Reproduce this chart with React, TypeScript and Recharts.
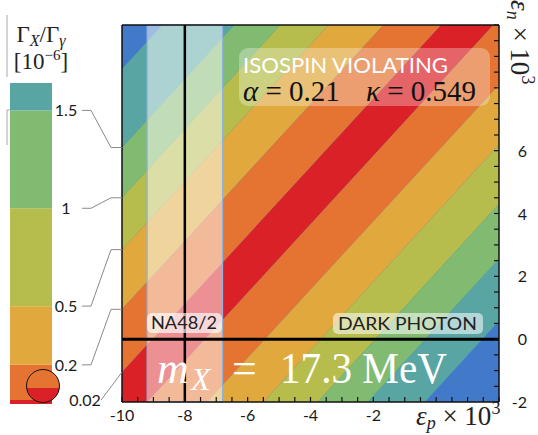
import {
  ComposedChart,
  Area,
  XAxis,
  YAxis,
  CartesianGrid,
  ReferenceArea,
  ReferenceLine,
  BarChart,
  Bar
} from "recharts"

// contour boundaries, read as εn at the left (εp = -10) and right (εp = 2) edges
const EP_EDGES = [-10, 2]
const LINE_AT_LEFT = [8.6, 6.1, 4.5, 2.85, 0.95, -1.05, -2.88, -4.94, -6.92, -8.8, -10.53, -12.54]
const LINE_AT_RIGHT = [21.7, 19.2, 17.6, 15.9, 14.0, 12.0, 10.2, 8.1, 6.2, 4.3, 2.55, 0.58]

const BLUE = "#4279c9"
const TEAL = "#58a5a4"
const GREEN = "#81ba71"
const OLIVE = "#b6bd4c"
const YELLOW = "#e0a83d"
const ORANGE = "#e57433"
const RED = "#da2127"

const BAND_COLORS = [TEAL, GREEN, OLIVE, YELLOW, ORANGE, RED, ORANGE, YELLOW, OLIVE, GREEN, TEAL]

// colour bar levels (Γx/Γγ in 1e-6)
const LEVELS = [0, 0.02, 0.2, 0.5, 1, 1.5, 1.64]
const LEVEL_COLORS = [RED, ORANGE, YELLOW, OLIVE, GREEN, TEAL]
const LEVEL_LABELS = ["0.02", "0.2", "0.5", "1", "1.5"]

const NA48 = [-9.2, -6.8]
const NA48_CENTER = -8

const X_LABELS = [-10, -8, -6, -4, -2]
const Y_LABELS = [-2, 0, 2, 4, 6]
const X_TICKS = Array.from({ length: 25 }, (_, i) => -10 + i * 0.5)
const Y_TICKS = Array.from({ length: 25 }, (_, i) => -2 + i * 0.5)

const PLOT = { left: 122, top: 25, right: 499, bottom: 402 }
const CB = { left: 10, right: 52, top: 83, bottom: 404 }

const bandRows = EP_EDGES.map((ep, i) => {
  const edge = i === 0 ? LINE_AT_LEFT : LINE_AT_RIGHT
  const row: any = { ep }
  BAND_COLORS.forEach((_, b) => {
    row["b" + b] = [edge[b + 1], edge[b]]
  })
  return row
})

const barRow: any = { name: "cb" }
LEVEL_COLORS.forEach((_, i) => {
  barRow["l" + i] = LEVELS[i + 1] - LEVELS[i]
})

const tickFont = { fontFamily: "Lato, sans-serif", fontSize: 16, fill: "#1a1a1a" }

function BottomTick(props: any) {
  const v = props.payload.value
  if (!X_LABELS.includes(v)) return <g />
  return (
    <text x={props.payload.coordinate} y={PLOT.bottom + 19} textAnchor="middle" {...tickFont}>
      {v}
    </text>
  )
}

function RightTick(props: any) {
  const v = props.payload.value
  if (!Y_LABELS.includes(v)) return <g />
  return (
    <text x={PLOT.right + 28} y={props.payload.coordinate + 6} textAnchor="end" {...tickFont}>
      {v}
    </text>
  )
}

const cbY = (v: number) => CB.bottom - ((CB.bottom - CB.top) * v) / LEVELS[LEVELS.length - 1]
const plotY = (en: number) => PLOT.top + ((10 - en) * (PLOT.bottom - PLOT.top)) / 12

const serif = "'Liberation Serif', 'DejaVu Serif', serif"

function Overlay() {
  const leaderLevels = [0.02, 0.2, 0.5, 1, 1.5]
  const leaderTargets = [LINE_AT_LEFT[5], LINE_AT_LEFT[4], LINE_AT_LEFT[3], LINE_AT_LEFT[2], LINE_AT_LEFT[1]]
  return (
    <svg
      width={538}
      height={435}
      style={{ position: "absolute", left: 0, top: 0, pointerEvents: "none" }}
    >
      {/* colour bar title */}
      <line x1={7} y1={15} x2={7} y2={77} stroke="#aaa" strokeWidth={1} />
      <polyline points="10,110 7,110 7,145" fill="none" stroke="#aaa" strokeWidth={1} />
      <text x={41} y={42} textAnchor="middle" fontFamily={serif} fontSize={23} fill="#222">
        Γ<tspan fontSize={16} dy={4} fontStyle="italic">X</tspan>
        <tspan dy={-4}>/Γ</tspan>
        <tspan fontSize={16} dy={4} fontStyle="italic">γ</tspan>
      </text>
      <text x={41} y={69} textAnchor="middle" fontFamily={serif} fontSize={23} fill="#222">
        [10<tspan fontSize={15} dy={-9}>−6</tspan>
        <tspan dy={9}>]</tspan>
      </text>

      {/* colour bar labels and leaders */}
      {leaderLevels.map((lv, i) => {
        const cy = cbY(lv)
        const py = plotY(leaderTargets[i])
        const isLast = i === 0
        const pts = isLast
          ? `101,${cy} ${PLOT.left},${py}`
          : `82,${cy} 91,${cy} 111,${py} ${PLOT.left},${py}`
        return (
          <g key={lv}>
            <polyline points={pts} fill="none" stroke="#8a8a8a" strokeWidth={1} />
            <text
              x={isLast ? 85 : 66}
              y={cy + 6}
              textAnchor="middle"
              {...tickFont}
            >
              {LEVEL_LABELS[i]}
            </text>
          </g>
        )
      })}

      {/* magnifier circle at the bottom of the colour bar */}
      <defs>
        <clipPath id="lowHalf">
          <rect x={20} y={388} width={50} height={30} />
        </clipPath>
      </defs>
      <circle cx={43} cy={386} r={16.5} fill={ORANGE} />
      <circle cx={43} cy={386} r={16.5} fill={RED} clipPath="url(#lowHalf)" />
      <circle cx={43} cy={386} r={16.5} fill="none" stroke="#111" strokeWidth={1} />

      {/* ISOSPIN VIOLATING box */}
      <rect x={239} y={48} width={251} height={58} rx={9} fill="#fff" fillOpacity={0.3} />
      <text
        x={243}
        y={73}
        fontFamily="Lato, sans-serif"
        fontSize={21}
        fill="#fff"
        textLength={205}
        lengthAdjust="spacingAndGlyphs"
      >
        ISOSPIN VIOLATING
      </text>
      <text x={243} y={101} fontFamily={serif} fontSize={29} fill="#111">
        <tspan fontStyle="italic">α</tspan> = 0.21
        <tspan x={366} fontStyle="italic">κ</tspan> = 0.549
      </text>

      {/* NA48/2 and DARK PHOTON tags */}
      <rect x={147} y={313} width={75} height={20} rx={5} fill="#fff" fillOpacity={0.65} />
      <text
        x={151}
        y={329}
        fontFamily="Lato, sans-serif"
        fontSize={17}
        fill="#222"
        textLength={66}
        lengthAdjust="spacingAndGlyphs"
      >
        NA48/2
      </text>
      <rect x={333} y={313} width={150} height={21} rx={5} fill="#fff" fillOpacity={0.55} />
      <text
        x={338}
        y={330}
        fontFamily="Lato, sans-serif"
        fontSize={17}
        fill="#222"
        textLength={139}
        lengthAdjust="spacingAndGlyphs"
      >
        DARK PHOTON
      </text>

      {/* mass label */}
      <text y={383} fontFamily={serif} fontSize={44} fill="#fff">
        <tspan x={157} fontStyle="italic">m</tspan>
        <tspan x={191} dy={7} fontSize={32} fontStyle="italic">X</tspan>
        <tspan x={232} dy={-7}>=</tspan>
        <tspan x={280} textLength={167} lengthAdjust="spacingAndGlyphs">17.3 MeV</tspan>
      </text>

      {/* axis titles */}
      <text x={416} y={425} fontFamily={serif} fontSize={27} fill="#222">
        <tspan fontStyle="italic">ε</tspan>
        <tspan fontSize={18} dy={4} fontStyle="italic">p</tspan>
        <tspan dy={-4}> × 10</tspan>
        <tspan fontSize={18} dy={-11}>3</tspan>
      </text>
      <text
        x={511}
        y={0}
        transform="rotate(90 511 0)"
        fontFamily={serif}
        fontSize={27}
        fill="#222"
      >
        <tspan fontStyle="italic">ε</tspan>
        <tspan fontSize={18} dy={4} fontStyle="italic">n</tspan>
        <tspan dy={-4}> × 10</tspan>
        <tspan fontSize={18} dy={-11}>3</tspan>
      </text>
    </svg>
  )
}

function ColorBar() {
  return (
    <div style={{ position: "absolute", left: 0, top: 0 }}>
      <BarChart
        width={CB.right + 8}
        height={435}
        data={[barRow]}
        margin={{ top: CB.top, bottom: 435 - CB.bottom, left: CB.left, right: 8 }}
        barCategoryGap={0}
      >
        <XAxis dataKey="name" hide />
        <YAxis hide type="number" domain={[0, LEVELS[LEVELS.length - 1]]} allowDataOverflow />
        {LEVEL_COLORS.map((c, i) => (
          <Bar key={i} dataKey={"l" + i} stackId="cb" fill={c} isAnimationActive={false} />
        ))}
      </BarChart>
    </div>
  )
}

export default function App() {
  const axisLine = { stroke: "#111", strokeWidth: 1.5 }
  const tickLine = { stroke: "#111", strokeWidth: 1.2 }
  return (
    <div style={{ position: "absolute", left: 0, top: 0, width: 538, height: 435, background: "#fff" }}>
      <ColorBar />
      <div style={{ position: "absolute", left: 0, top: 0 }}>
        <ComposedChart
          width={538}
          height={435}
          data={bandRows}
          margin={{ top: PLOT.top, right: 538 - PLOT.right, bottom: 435 - PLOT.bottom, left: PLOT.left }}
        >
          <CartesianGrid fill={BLUE} horizontal={false} vertical={false} xAxisId="x" yAxisId="y" />
          <XAxis
            xAxisId="x"
            dataKey="ep"
            type="number"
            domain={[-10, 2]}
            allowDataOverflow
            ticks={X_TICKS}
            interval={0}
            mirror
            tickSize={5}
            tickMargin={0}
            axisLine={axisLine}
            tickLine={tickLine}
            tick={<BottomTick />}
          />
          <XAxis
            xAxisId="top"
            orientation="top"
            type="number"
            domain={[-10, 2]}
            allowDataOverflow
            ticks={X_TICKS}
            interval={0}
            mirror
            tickSize={5}
            axisLine={axisLine}
            tickLine={tickLine}
            tick={false}
          />
          <YAxis
            yAxisId="y"
            orientation="right"
            type="number"
            domain={[-2, 10]}
            allowDataOverflow
            ticks={Y_TICKS}
            interval={0}
            mirror
            tickSize={5}
            tickMargin={0}
            axisLine={axisLine}
            tickLine={tickLine}
            tick={<RightTick />}
          />
          <YAxis
            yAxisId="left"
            orientation="left"
            type="number"
            domain={[-2, 10]}
            allowDataOverflow
            ticks={Y_TICKS}
            interval={0}
            mirror
            tickSize={5}
            axisLine={axisLine}
            tickLine={tickLine}
            tick={false}
          />

          {BAND_COLORS.map((c, b) => (
            <Area
              key={b}
              xAxisId="x"
              yAxisId="y"
              dataKey={"b" + b}
              type="linear"
              fill={c}
              fillOpacity={1}
              stroke="none"
              dot={false}
              activeDot={false}
              isAnimationActive={false}
            />
          ))}

          <ReferenceArea
            xAxisId="x"
            yAxisId="y"
            x1={NA48[0]}
            x2={NA48[1]}
            y1={-2}
            y2={10}
            fill="#fff"
            fillOpacity={0.5}
            stroke="#8fb2de"
            strokeWidth={1.2}
            strokeOpacity={1}
          />
          <ReferenceLine xAxisId="x" yAxisId="y" x={NA48_CENTER} stroke="#000" strokeWidth={2.5} />
          <ReferenceLine xAxisId="x" yAxisId="y" y={0} stroke="#000" strokeWidth={3} />
        </ComposedChart>
      </div>
      <Overlay />
    </div>
  )
}
